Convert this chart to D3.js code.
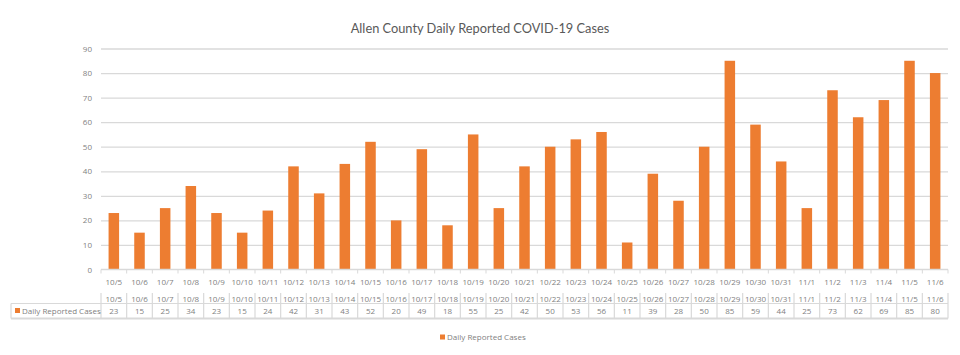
<!DOCTYPE html>
<html>
<head>
<meta charset="utf-8">
<script src="https://cdn.jsdelivr.net/npm/d3@7"></script>
<style>
  body { margin: 0; background: #fff; }
  text { font-family: "Open Sans", sans-serif; }
</style>
</head>
<body>
<div id="chart"></div>
<script>
const dates = ["10/5","10/6","10/7","10/8","10/9","10/10","10/11","10/12","10/13","10/14","10/15","10/16","10/17","10/18","10/19","10/20","10/21","10/22","10/23","10/24","10/25","10/26","10/27","10/28","10/29","10/30","10/31","11/1","11/2","11/3","11/4","11/5","11/6"];
const cases = [23,15,25,34,23,15,24,42,31,43,52,20,49,18,55,25,42,50,53,56,11,39,28,50,85,59,44,25,73,62,69,85,80];
const yTicks = [0,10,20,30,40,50,60,70,80,90];
const seriesName = "Daily Reported Cases";
const chartTitle = "Allen County Daily Reported COVID-19 Cases";

const svgWidth = 960, svgHeight = 355;
const pLeft = 101, pRight = 948, pTop = 48.5, pBottom = 269.5;
const barColor = "#ED7D31";
const gridColor = "#d9d9d9";
const textColor = "#7f7f7f";
const smallFont = "8px";

const svg = d3.select("#chart").append("svg")
    .attr("width", svgWidth)
    .attr("height", svgHeight);

const x = d3.scaleBand().domain(dates).range([pLeft, pRight]).paddingInner(0.59).paddingOuter(0.295);
const xCell = d3.scaleBand().domain(dates).range([pLeft, pRight]);
const y = d3.scaleLinear().domain([0, 90]).range([pBottom, pTop]);

// title
svg.append("text")
    .attr("x", 480).attr("y", 33)
    .attr("text-anchor", "middle")
    .style("font-family", "Lato, sans-serif")
    .style("font-size", "12.8px")
    .style("fill", "#595959")
    .text(chartTitle);

// gridlines + y labels
const yAxis = svg.append("g")
    .attr("transform", `translate(${pLeft},0)`)
    .call(d3.axisLeft(y).tickValues(yTicks).tickSize(-(pRight - pLeft)).tickPadding(9));
yAxis.select(".domain").remove();
yAxis.selectAll(".tick line").attr("stroke", gridColor).attr("stroke-width", 1.3)
    .attr("display", d => d === 0 ? "none" : null);
yAxis.selectAll(".tick text").style("font-size", smallFont).style("fill", textColor)
    .style("font-family", "'Open Sans', sans-serif");

// bars
svg.append("g")
    .selectAll("rect")
    .data(dates)
    .enter().append("rect")
    .attr("x", d => x(d))
    .attr("y", (d, i) => y(cases[i]))
    .attr("width", x.bandwidth())
    .attr("height", (d, i) => y(0) - y(cases[i]))
    .attr("fill", barColor);

// x axis line and category ticks
const axisG = svg.append("g");
axisG.append("line")
    .attr("x1", pLeft).attr("x2", pRight)
    .attr("y1", pBottom).attr("y2", pBottom)
    .attr("stroke", gridColor).attr("stroke-width", 1.3);
axisG.selectAll(".cat-tick")
    .data(dates.concat(["end"]))
    .enter().append("line")
    .attr("x1", (d, i) => i < dates.length ? xCell(d) : pRight)
    .attr("x2", (d, i) => i < dates.length ? xCell(d) : pRight)
    .attr("y1", pBottom).attr("y2", pBottom + 4)
    .attr("stroke", gridColor);
axisG.selectAll(".cat-label")
    .data(dates)
    .enter().append("text")
    .attr("x", d => xCell(d) + xCell.bandwidth() / 2)
    .attr("y", 285)
    .attr("text-anchor", "middle")
    .style("font-size", smallFont)
    .style("fill", textColor)
    .text(d => d);

// data table
const tTop = 293, tMid = 303.5, tBot = 318.5, tLeft = 11;
const table = svg.append("g").attr("stroke", gridColor).attr("stroke-width", 1.2);
table.append("line").attr("x1", tLeft).attr("x2", pRight).attr("y1", tMid).attr("y2", tMid);
table.append("line").attr("x1", tLeft).attr("x2", pRight).attr("y1", tBot).attr("y2", tBot).attr("stroke-width", 2);
table.append("line").attr("x1", tLeft).attr("x2", tLeft).attr("y1", tMid).attr("y2", tBot);
table.selectAll(".col")
    .data(dates.concat(["end"]))
    .enter().append("line")
    .attr("x1", (d, i) => i < dates.length ? xCell(d) : pRight)
    .attr("x2", (d, i) => i < dates.length ? xCell(d) : pRight)
    .attr("y1", tTop).attr("y2", tBot);

svg.append("g").selectAll("text")
    .data(dates)
    .enter().append("text")
    .attr("x", d => xCell(d) + xCell.bandwidth() / 2)
    .attr("y", 301.5)
    .attr("text-anchor", "middle")
    .style("font-size", smallFont)
    .style("fill", textColor)
    .text(d => d);

svg.append("g").selectAll("text")
    .data(cases)
    .enter().append("text")
    .attr("x", (d, i) => xCell(dates[i]) + xCell.bandwidth() / 2)
    .attr("y", 314)
    .attr("text-anchor", "middle")
    .style("font-size", smallFont)
    .style("fill", textColor)
    .text(d => d);

svg.append("rect").attr("x", 15).attr("y", 308).attr("width", 5).attr("height", 5).attr("fill", barColor);
svg.append("text")
    .attr("x", 22).attr("y", 314)
    .style("font-size", smallFont)
    .style("fill", textColor)
    .text(seriesName);

// legend
const legend = svg.append("g").attr("transform", "translate(440, 338)");
legend.append("rect").attr("x", 0).attr("y", -3.5).attr("width", 5).attr("height", 5).attr("fill", barColor);
legend.append("text")
    .attr("x", 7).attr("y", 1.5)
    .style("font-size", smallFont)
    .style("fill", textColor)
    .text(seriesName);
</script>
</body>
</html>
